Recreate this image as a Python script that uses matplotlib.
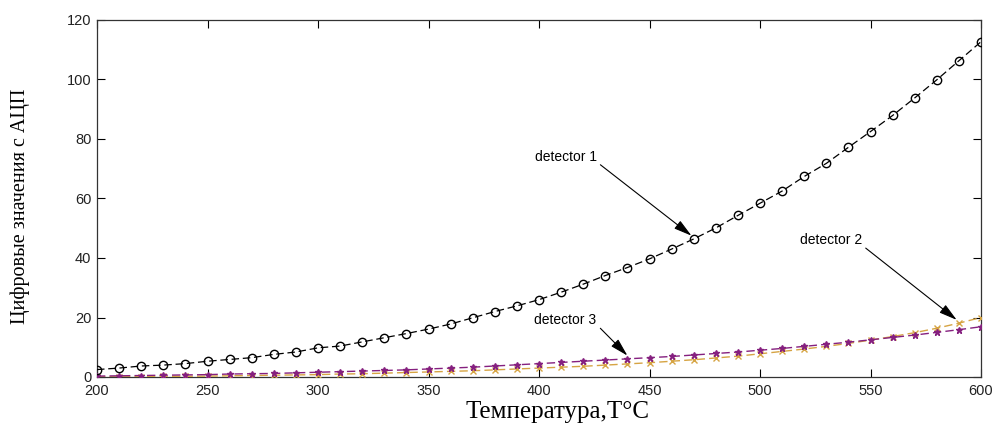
import matplotlib
matplotlib.use("Agg")
import matplotlib.pyplot as plt
import numpy as np

temperature = list(range(200, 601, 10))
detector1 = [2.5, 3.0, 3.7, 4.0, 4.5, 5.3, 5.9, 6.5, 7.6, 8.4, 9.8, 10.4, 11.8, 13.2, 14.6,
             16.1, 17.8, 19.9, 22.0, 23.9, 26.0, 28.5, 31.2, 34.1, 36.8, 39.7, 43.0, 46.4,
             50.1, 54.3, 58.4, 62.5, 67.4, 71.8, 77.2, 82.5, 87.9, 93.8, 99.9, 106.3, 112.7]
detector2 = [0.1, 0.1, 0.15, 0.2, 0.25, 0.3, 0.4, 0.5, 0.6, 0.7, 0.8, 1.0, 1.1, 1.3, 1.5,
             1.7, 1.9, 2.1, 2.4, 2.7, 3.0, 3.3, 3.6, 4.0, 4.4, 4.8, 5.3, 5.8, 6.4, 7.0,
             7.8, 8.6, 9.4, 10.3, 11.3, 12.4, 13.6, 14.9, 16.4, 18.1, 20.0]
detector3 = [0.3, 0.4, 0.5, 0.6, 0.7, 0.8, 1.0, 1.1, 1.2, 1.4, 1.6, 1.8, 2.0, 2.2, 2.4,
             2.7, 3.0, 3.3, 3.7, 4.1, 4.5, 4.9, 5.3, 5.7, 6.1, 6.5, 6.9, 7.4, 7.9, 8.4,
             9.0, 9.6, 10.3, 11.0, 11.7, 12.5, 13.3, 14.1, 15.0, 15.9, 16.9]
labels = ["detector 1", "detector 2", "detector 3"]
xticks = [200, 250, 300, 350, 400, 450, 500, 550, 600]
yticks = [0, 20, 40, 60, 80, 100, 120]

fig = plt.figure(figsize=(9.93, 4.34), dpi=100)
ax = fig.add_axes([97/993, 1 - 377/434, (981-97)/993, (377-20)/434])

ax.plot(temperature, detector2, linestyle=(0, (6, 3)), color="#d6a443", marker="x",
        markersize=5, markeredgewidth=1.0, linewidth=1.0, zorder=3)
ax.plot(temperature, detector3, linestyle=(0, (6, 3)), color="#85207f", marker="*",
        markersize=5, linewidth=1.0, zorder=4)
ax.plot(temperature, detector1, linestyle=(0, (6, 3)), color="black", marker="o",
        markersize=6, markerfacecolor="none", markeredgewidth=1.0, linewidth=0.9, zorder=5)

ax.set_xlim(200, 600)
ax.set_ylim(0, 120)
ax.set_xticks(xticks)
ax.set_yticks(yticks)
ax.tick_params(axis="both", direction="in", top=True, right=True, length=6, width=0.8,
               labelsize=10.5)
ax.tick_params(axis="x", pad=5)
ax.tick_params(axis="y", pad=4)
for lab in ax.get_xticklabels() + ax.get_yticklabels():
    lab.set_family("Liberation Sans")
    lab.set_color("#222222")
for s in ax.spines.values():
    s.set_linewidth(0.9)
    s.set_color("#333333")

arrow = dict(arrowstyle="-|>,head_length=1.1,head_width=0.3", color="black",
             lw=0.8, shrinkA=1, shrinkB=0)
ax.annotate(labels[0], xy=(469, 47.5), xytext=(412, 74),
            fontsize=10, family="Liberation Sans", ha="center", va="center",
            arrowprops=dict(arrow, relpos=(1, 0.15)))
ax.annotate(labels[1], xy=(589, 19.2), xytext=(532, 46),
            fontsize=10, family="Liberation Sans", ha="center", va="center",
            arrowprops=dict(arrow, relpos=(1, 0.15)))
ax.annotate(labels[2], xy=(440, 7.2), xytext=(412, 19.3),
            fontsize=10, family="Liberation Sans", ha="center", va="center",
            arrowprops=dict(arrow, relpos=(1, 0.15)))

fig.text(20/993, 1 - 206/434, "Цифровые значения с АЦП", rotation=90, ha="center",
         va="center", fontsize=14.5, family="Liberation Serif")
fig.text(557/993, 1 - 412/434, "Температура,Т°С", ha="center", va="center",
         fontsize=18, family="Liberation Serif")

fig.savefig("out.png", dpi=100)
